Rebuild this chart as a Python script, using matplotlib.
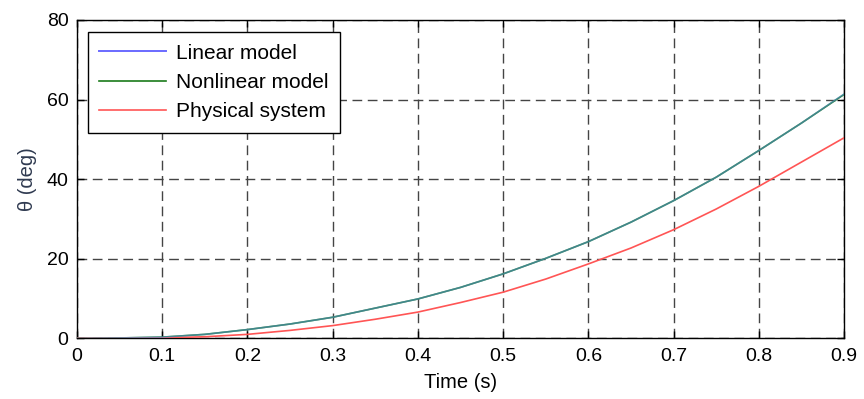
import matplotlib
matplotlib.use("Agg")
import matplotlib.pyplot as plt
from matplotlib.lines import Line2D

t = [0.0, 0.05, 0.1, 0.15, 0.2, 0.25, 0.3, 0.35, 0.4, 0.45,
     0.5, 0.55, 0.6, 0.65, 0.7, 0.75, 0.8, 0.85, 0.9]
linear_model = [0.0, 0.1, 0.3, 1.0, 2.2, 3.6, 5.3, 7.6, 9.9, 12.8,
                16.2, 20.1, 24.3, 29.2, 34.6, 40.5, 47.2, 54.1, 61.4]
nonlinear_model = [0.0, 0.1, 0.3, 1.0, 2.2, 3.6, 5.3, 7.6, 9.9, 12.8,
                   16.2, 20.1, 24.3, 29.2, 34.6, 40.5, 47.2, 54.1, 61.3]
physical_system = [0.0, 0.0, 0.1, 0.4, 1.0, 2.0, 3.2, 4.8, 6.6, 9.0,
                   11.6, 14.9, 18.7, 22.7, 27.3, 32.5, 38.2, 44.3, 50.4]

x_ticks = [0, 0.1, 0.2, 0.3, 0.4, 0.5, 0.6, 0.7, 0.8, 0.9]
x_tick_labels = ["0", "0.1", "0.2", "0.3", "0.4", "0.5", "0.6", "0.7", "0.8", "0.9"]
y_ticks = [0, 20, 40, 60, 80]

plt.rcParams['font.family'] = ['Liberation Sans', 'DejaVu Sans']

fig = plt.figure(figsize=(8.64, 3.99), dpi=100)
ax = fig.add_axes([0.089, 0.152, 0.888, 0.798])

ax.plot(t, nonlinear_model, color='#1a7a1a', lw=1.2, zorder=3)
ax.plot(t, linear_model, color='#5a8fd8', lw=1.2, alpha=0.6, zorder=4)
ax.plot(t, physical_system, color='#ff5555', lw=1.2, zorder=3)

ax.set_xlim(0, 0.9)
ax.set_ylim(0, 80)
ax.set_xticks(x_ticks)
ax.set_xticklabels(x_tick_labels)
ax.set_yticks(y_ticks)

ax.grid(True, color='#444444', linestyle=(0, (7, 4)), linewidth=1.0)
ax.set_axisbelow(True)
ax.tick_params(axis='both', direction='in', length=5, width=1, top=True, right=True,
               labelsize=14, colors='black')
ax.tick_params(axis='x', pad=7)
ax.tick_params(axis='y', pad=6)
for s in ax.spines.values():
    s.set_color('black')
    s.set_linewidth(1.0)

ax.set_xlabel('Time (s)', fontsize=14.5, labelpad=6)
ax.set_ylabel('θ (deg)', fontsize=14.5, color='#2f3a50', labelpad=7)

handles = [Line2D([], [], color='#6a6aff', lw=1.4),
           Line2D([], [], color='#1a7a1a', lw=1.2),
           Line2D([], [], color='#ff5555', lw=1.2)]
leg = ax.legend(handles, ['Linear model', 'Nonlinear model', 'Physical system'],
                loc='upper left', bbox_to_anchor=(0.0143, 0.962), borderaxespad=0,
                fancybox=False, framealpha=1, edgecolor='black', fontsize=15,
                handlelength=3.2, handletextpad=0.5, labelspacing=0.5,
                borderpad=0.55)
leg.get_frame().set_linewidth(1.0)

fig.savefig('out.png', dpi=100)
